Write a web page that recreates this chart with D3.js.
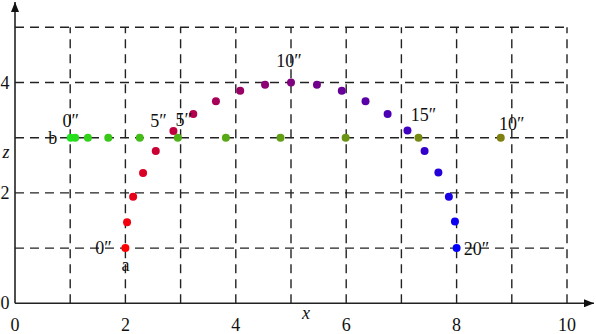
<!DOCTYPE html>
<html>
<head>
<meta charset="utf-8">
<script src="https://cdn.jsdelivr.net/npm/d3@7"></script>
<style>
  body { margin: 0; background: #fff; }
  svg text { font-family: "Liberation Serif", "Times New Roman", Times, "DejaVu Serif", serif; }
  .grid line { stroke: #222; stroke-width: 1.4; stroke-dasharray: 9,6; }
</style>
</head>
<body>
<svg width="596" height="334"></svg>
<script>
// ball a: one sample per second, 0..20 s
var aTimes = d3.range(0, 21);
var aX = [2.00, 2.03, 2.14, 2.32, 2.55, 2.87, 3.23, 3.64, 4.08, 4.53, 5.00,
          5.47, 5.92, 6.35, 6.75, 7.11, 7.42, 7.67, 7.86, 7.97, 8.00];
var aZ = [1.00, 1.47, 1.93, 2.36, 2.76, 3.12, 3.43, 3.66, 3.85, 3.96, 4.00,
          3.96, 3.85, 3.66, 3.43, 3.13, 2.76, 2.37, 1.93, 1.48, 1.00];

// ball b: one sample per second, 0..10 s
var bTimes = d3.range(0, 11);
var bX = [1.01, 1.09, 1.32, 1.69, 2.26, 2.95, 3.82, 4.81, 5.99, 7.31, 8.80];
var bZ = [3, 3, 3, 3, 3, 3, 3, 3, 3, 3, 3];

var xTicks = [0, 2, 4, 6, 8, 10];
var zTicks = [0, 2, 4];
var gridX = [1, 2, 3, 4, 5, 6, 7, 8, 9, 10];
var gridZ = [1, 2, 3, 4, 5];

// time labels: [ball, second, text]
var timeLabels = [
  ["a", 0, "0\u2033"], ["a", 5, "5\u2033"], ["a", 10, "10\u2033"],
  ["a", 15, "15\u2033"], ["a", 20, "20\u2033"],
  ["b", 0, "0\u2033"], ["b", 5, "5\u2033"], ["b", 10, "10\u2033"]
];
// where each label sits relative to its point
var labelOffset = {
  "a0": [-22, 6], "a5": [-15, -4], "a10": [-2, -16], "a15": [16, -10], "a20": [20, 7],
  "b0": [0, -11], "b5": [6, -12], "b10": [11, -8]
};

var svg = d3.select("svg");

var x = d3.scaleLinear().domain([0, 10]).range([15, 567]);
var z = d3.scaleLinear().domain([0, 5]).range([303.3, 27.3]);
var colA = d3.scaleLinear().domain([0, 20]).range(["#ff0000", "#0000ff"]).interpolate(d3.interpolateRgb);
var colB = d3.scaleLinear().domain([0, 10]).range(["#1ee61e", "#808010"]).interpolate(d3.interpolateRgb);

var grid = svg.append("g").attr("class", "grid");
grid.selectAll(".gh").data(gridZ).enter().append("line")
  .attr("x1", x(0)).attr("x2", x(10))
  .attr("y1", function (d) { return z(d); }).attr("y2", function (d) { return z(d); });
grid.selectAll(".gv").data(gridX).enter().append("line")
  .attr("y1", z(0)).attr("y2", z(5))
  .attr("x1", function (d) { return x(d); }).attr("x2", function (d) { return x(d); });

// axes with arrows
svg.append("defs").append("marker")
  .attr("id", "arrow").attr("viewBox", "0 0 10 8")
  .attr("refX", 10).attr("refY", 4)
  .attr("markerWidth", 10).attr("markerHeight", 8)
  .attr("markerUnits", "userSpaceOnUse").attr("orient", "auto")
  .append("path").attr("d", "M0,0L10,4L0,8Z").attr("fill", "#111");

svg.append("line")
  .attr("x1", x(0)).attr("y1", z(0)).attr("x2", 594).attr("y2", z(0))
  .attr("stroke", "#222").attr("stroke-width", 1.6).attr("marker-end", "url(#arrow)");
svg.append("line")
  .attr("x1", x(0)).attr("y1", z(0)).attr("x2", x(0)).attr("y2", 2)
  .attr("stroke", "#222").attr("stroke-width", 1.6).attr("marker-end", "url(#arrow)");

svg.selectAll(".xt").data(xTicks).enter().append("text")
  .attr("x", function (d) { return x(d); }).attr("y", 331)
  .attr("text-anchor", "middle").attr("font-size", 18).attr("fill", "#111")
  .text(function (d) { return d; });
svg.selectAll(".zt").data(zTicks).enter().append("text")
  .attr("x", 5).attr("y", function (d) { return z(d) + 6; })
  .attr("text-anchor", "middle").attr("font-size", 18).attr("fill", "#111")
  .text(function (d) { return d; });

svg.append("text").attr("x", 306).attr("y", 319).attr("text-anchor", "middle")
  .attr("font-size", 18).attr("font-style", "italic").attr("fill", "#111").text("x");
svg.append("text").attr("x", 6).attr("y", 158).attr("text-anchor", "middle")
  .attr("font-size", 18).attr("font-style", "italic").attr("fill", "#111").text("z");

// points
svg.append("g").selectAll("circle").data(bTimes).enter().append("circle")
  .attr("cx", function (d, i) { return x(bX[i]); })
  .attr("cy", function (d, i) { return z(bZ[i]); })
  .attr("r", 4).attr("fill", function (d) { return colB(d); });
svg.append("g").selectAll("circle").data(aTimes).enter().append("circle")
  .attr("cx", function (d, i) { return x(aX[i]); })
  .attr("cy", function (d, i) { return z(aZ[i]); })
  .attr("r", 4).attr("fill", function (d) { return colA(d); });

// ball names
svg.append("text").attr("x", x(aX[0])).attr("y", z(aZ[0]) + 23)
  .attr("text-anchor", "middle").attr("font-size", 18).attr("fill", "#111").text("a");
svg.append("text").attr("x", x(bX[0]) - 18).attr("y", z(bZ[0]) + 6)
  .attr("text-anchor", "middle").attr("font-size", 18).attr("fill", "#111").text("b");

svg.selectAll(".tl").data(timeLabels).enter().append("text")
  .attr("x", function (d) {
    var px = d[0] === "a" ? x(aX[d[1]]) : x(bX[d[1]]);
    return px + labelOffset[d[0] + d[1]][0];
  })
  .attr("y", function (d) {
    var pz = d[0] === "a" ? z(aZ[d[1]]) : z(bZ[d[1]]);
    return pz + labelOffset[d[0] + d[1]][1];
  })
  .attr("text-anchor", "middle").attr("font-size", 18).attr("fill", "#111")
  .text(function (d) { return d[2]; });
</script>
</body>
</html>
